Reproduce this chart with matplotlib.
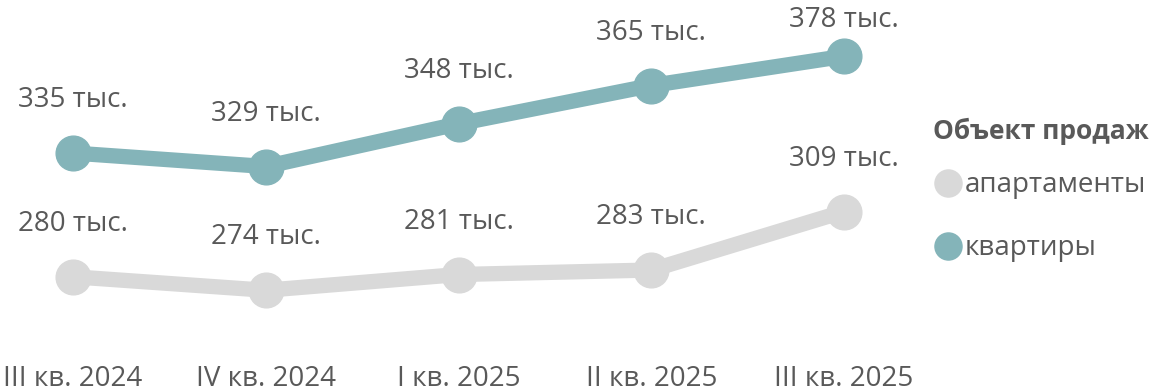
import matplotlib.pyplot as plt
from matplotlib.lines import Line2D

plt.rcParams['font.family'] = ['Open Sans', 'DejaVu Sans']

# Data
quarters = ['III кв. 2024', 'IV кв. 2024', 'I кв. 2025', 'II кв. 2025', 'III кв. 2025']
flats = [335, 329, 348, 365, 378]        # квартиры
apartments = [280, 274, 281, 283, 309]   # апартаменты

teal = '#84B4B9'
grey = '#D9D9D9'
txt = '#595959'
fs = 20

fig = plt.figure(figsize=(11.53, 3.92), dpi=100)
ax = fig.add_axes([0, 52 / 392, 920 / 1153, 340 / 392])

x = list(range(len(quarters)))
ax.plot(x, apartments, color=grey, lw=11, marker='o', ms=25, solid_capstyle='round')
ax.plot(x, flats, color=teal, lw=11, marker='o', ms=25, solid_capstyle='round')

# value labels above points (the topmost one is squeezed against the edge)
for i, v in enumerate(flats):
    off = 21 if i == len(flats) - 1 else 33
    ax.annotate(f'{v} тыс.', (i, v), xytext=(0, off), textcoords='offset points',
                ha='center', va='baseline', fontsize=fs, color=txt)
for i, v in enumerate(apartments):
    ax.annotate(f'{v} тыс.', (i, v), xytext=(0, 33), textcoords='offset points',
                ha='center', va='baseline', fontsize=fs, color=txt)

ax.set_xlim(-0.379, 4.394)
ax.set_ylim(251.9, 403)
ax.set_xticks(x)
ax.set_xticklabels(quarters, fontsize=fs, color=txt)
ax.tick_params(axis='x', length=0, pad=18)
ax.set_yticks([])
for s in ax.spines.values():
    s.set_visible(False)

# legend
fig.text(933 / 1153, 1 - 131 / 392, 'Объект продаж', fontsize=19, fontweight='bold',
         color=txt, ha='left', va='center')
for lab, col, yp in [('апартаменты', grey, 183), ('квартиры', teal, 246)]:
    fig.add_artist(Line2D([948 / 1153], [1 - yp / 392], transform=fig.transFigure,
                          ls='', marker='o', ms=19.5, color=col))
    fig.text(965 / 1153, 1 - (yp + 2) / 392, lab, fontsize=fs, color=txt,
             ha='left', va='center')

fig.savefig('out.png', dpi=100)
